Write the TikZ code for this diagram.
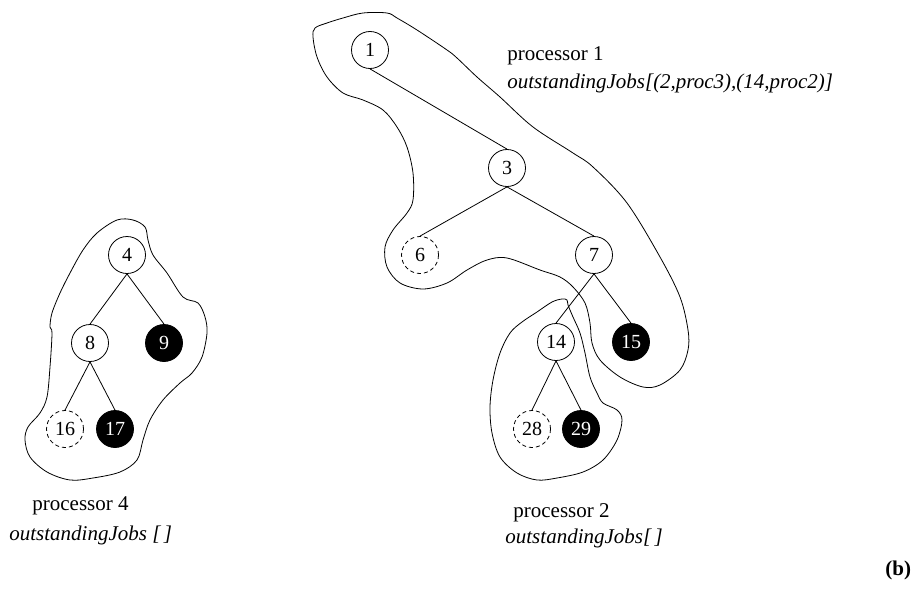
\documentclass[tikz,border=0pt]{standalone}
\usepackage{fontspec}
\setmainfont{Liberation Serif}
\begin{document}
\begin{tikzpicture}[x=1pt,y=-1pt,line width=0.8pt,
  tn/.style={circle,draw,minimum size=37pt,inner sep=0pt,font=\fontsize{20}{24}\selectfont},
  opentn/.style={tn,dash pattern=on 4pt off 3pt},
  fulltn/.style={tn,fill=black,text=white},
  blob/.style={line width=0.8pt},
  lbl/.style={anchor=base west,inner sep=0pt,font=\fontsize{21}{25}\selectfont},
  jobs/.style={anchor=base west,inner sep=0pt,font=\fontsize{21}{25}\selectfont\itshape}]
\useasboundingbox (0,0) rectangle (917,594);

% tree nodes
\node[tn]     (n1)  at (370,50)  {1};
\node[tn]     (n3)  at (507,168) {3};
\node[opentn] (n6)  at (420,255) {6};
\node[tn]     (n7)  at (594,255) {7};
\node[tn]     (n14) at (556,342) {14};
\node[fulltn] (n15) at (631,342) {15};
\node[opentn] (n28) at (532,429) {28};
\node[fulltn] (n29) at (581,429) {29};
\node[tn]     (n4)  at (127,255) {4};
\node[tn]     (n8)  at (90,343)  {8};
\node[fulltn] (n9)  at (164,343) {9};
\node[opentn] (n16) at (65,429)  {16};
\node[fulltn] (n17) at (115,429) {17};

% tree edges
\draw (n1.south) -- (n3.north);
\draw (n3.south) -- (n6.north);
\draw (n3.south) -- (n7.north);
\draw (n7.south) -- (n14.north);
\draw (n7.south) -- (n15.north);
\draw (n14.south) -- (n28.north);
\draw (n14.south) -- (n29.north);
\draw (n4.south) -- (n8.north);
\draw (n4.south) -- (n9.north);
\draw (n8.south) -- (n16.north);
\draw (n8.south) -- (n17.north);

% processor 1 region
\draw[blob] plot[smooth cycle,tension=0.55] coordinates {
  (315,28) (327,23) (343,18) (363,13) (387,13) (397,18) (417,30) (447,50)
  (457,58) (477,77) (500,97) (533,127) (573,153) (593,167) (627,203)
  (660,257) (680,297) (688,330) (688,350) (680,370) (660,385) (643,387)
  (620,377) (600,360) (592,343) (590,323) (585,303) (573,287) (560,277)
  (540,270) (507,258) (487,260) (467,270) (447,283) (423,289) (400,283)
  (387,267) (385,247) (393,230) (407,213) (413,200) (413,173) (407,147)
  (397,127) (383,110) (363,100) (343,93) (327,77) (317,57) (313,37)};

% processor 2 region
\draw[blob] plot[smooth cycle,tension=0.55] coordinates {
  (567,300) (562,299) (552,302) (537,312) (522,322) (510,333) (500,353)
  (493,380) (490,407) (492,433) (500,457) (517,473) (537,480) (557,478)
  (583,472) (603,460) (617,440) (622,420) (617,410) (603,403) (597,393)
  (590,377) (585,353) (580,333) (573,317) (568,305)};

% processor 4 region
\draw[blob] plot[smooth cycle,tension=0.55] coordinates {
  (117,220) (133,220) (145,227) (148,240) (153,255) (167,273) (183,297)
  (198,303) (205,317) (207,333) (202,357) (192,373) (180,383) (163,400)
  (150,420) (143,440) (137,460) (120,472) (93,478) (70,480) (47,472)
  (30,457) (25,440) (28,427) (40,413) (47,397) (50,367) (52,333) (50,327)
  (52,313) (60,293) (70,273) (83,250) (97,233)};

% labels
\node[lbl]  (p1)  at (507,60)  {processor 1};
\node[jobs] (j1)  at (507,88)  {outstandingJobs[(2,proc3),(14,proc2)]};
\node[lbl]  (p4)  at (32,510)  {processor 4};
\node[jobs] (j4)  at (9,540)   {outstandingJobs [\,]};
\node[lbl]  (p2)  at (513,517) {processor 2};
\node[jobs] (j2)  at (505,543) {outstandingJobs[\,]};
\node[lbl,font=\fontsize{21}{25}\selectfont\bfseries] (b) at (885,575) {(b)};
\end{tikzpicture}
\end{document}
